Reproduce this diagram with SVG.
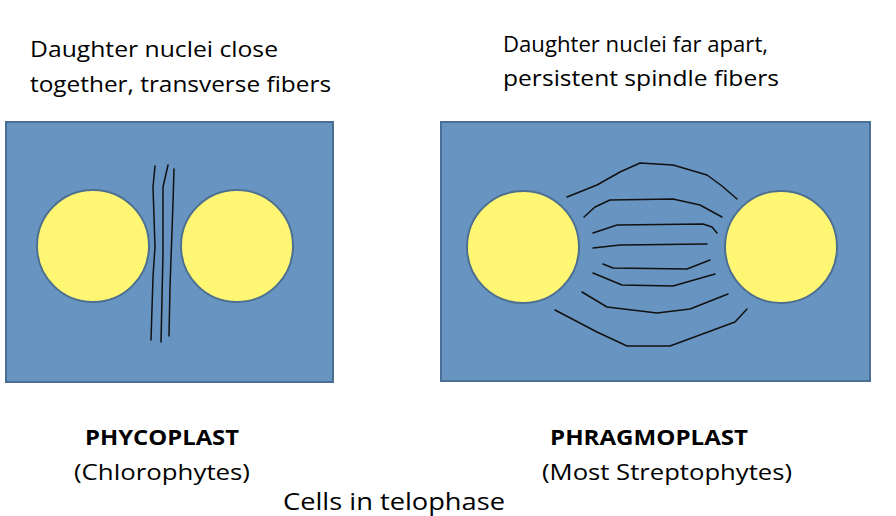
<svg xmlns="http://www.w3.org/2000/svg" width="896" height="516" viewBox="0 0 896 516">
<style>
text{font-family:"Open Sans","Liberation Sans",sans-serif;fill:#000}
.t{font-size:21px}
.b{font-size:21px;font-weight:bold}
.cell{fill:#6894c1;stroke:#4a6f96;stroke-width:2}
.nuc{fill:#fff774;stroke:#4d6f90;stroke-width:2}
.f{fill:none;stroke:#111;stroke-width:1.5;stroke-linecap:round;stroke-linejoin:round}
</style>
<rect width="896" height="516" fill="#fff"/>
<g id="phycoplast">
<rect class="cell" x="6" y="122" width="327" height="260"/>
<circle class="nuc" cx="93" cy="246" r="56"/>
<circle class="nuc" cx="237" cy="246" r="56"/>
<polyline class="f" points="155,166 153,187 155,247 153,277 151,340"/>
<polyline class="f" points="168,165 163,187 163,253 161,342"/>
<polyline class="f" points="174,169 173,203 170,287 169,336"/>
</g>
<g id="phragmoplast">
<rect class="cell" x="441" y="122" width="429" height="259"/>
<circle class="nuc" cx="523" cy="247" r="56"/>
<circle class="nuc" cx="781" cy="247" r="56"/>
<polyline class="f" points="567,197 597,185 620,172 640,163 673,165 707,175 722,186 737,199"/>
<polyline class="f" points="584,217 595,207 610,200 673,199 700,205 722,217"/>
<polyline class="f" points="593,233 617,225 703,224 712,227 717,233"/>
<polyline class="f" points="593,248 620,245 707,244"/>
<polyline class="f" points="603,264 613,268 687,269 710,260"/>
<polyline class="f" points="593,273 622,285 673,286 715,274"/>
<polyline class="f" points="582,292 607,307 657,313 690,309 728,294"/>
<polyline class="f" points="555,310 597,332 627,346 670,346 735,322 747,309"/>
</g>
<g id="labels">
<text class="t" x="30" y="57" textLength="248" lengthAdjust="spacingAndGlyphs">Daughter nuclei close</text>
<text class="t" x="30" y="92" textLength="301" lengthAdjust="spacingAndGlyphs">together, transverse fibers</text>
<text class="t" x="503" y="52" textLength="265" lengthAdjust="spacingAndGlyphs">Daughter nuclei far apart,</text>
<text class="t" x="503" y="86" textLength="276" lengthAdjust="spacingAndGlyphs">persistent spindle fibers</text>
<text class="b" x="85" y="445" textLength="154" lengthAdjust="spacingAndGlyphs">PHYCOPLAST</text>
<text class="t" x="74" y="480" textLength="176" lengthAdjust="spacingAndGlyphs">(Chlorophytes)</text>
<text class="b" x="550" y="445" textLength="198" lengthAdjust="spacingAndGlyphs">PHRAGMOPLAST</text>
<text class="t" x="542" y="480" textLength="250" lengthAdjust="spacingAndGlyphs">(Most Streptophytes)</text>
<text x="283" y="510" font-size="23" textLength="222" lengthAdjust="spacingAndGlyphs">Cells in telophase</text>
</g>
</svg>
